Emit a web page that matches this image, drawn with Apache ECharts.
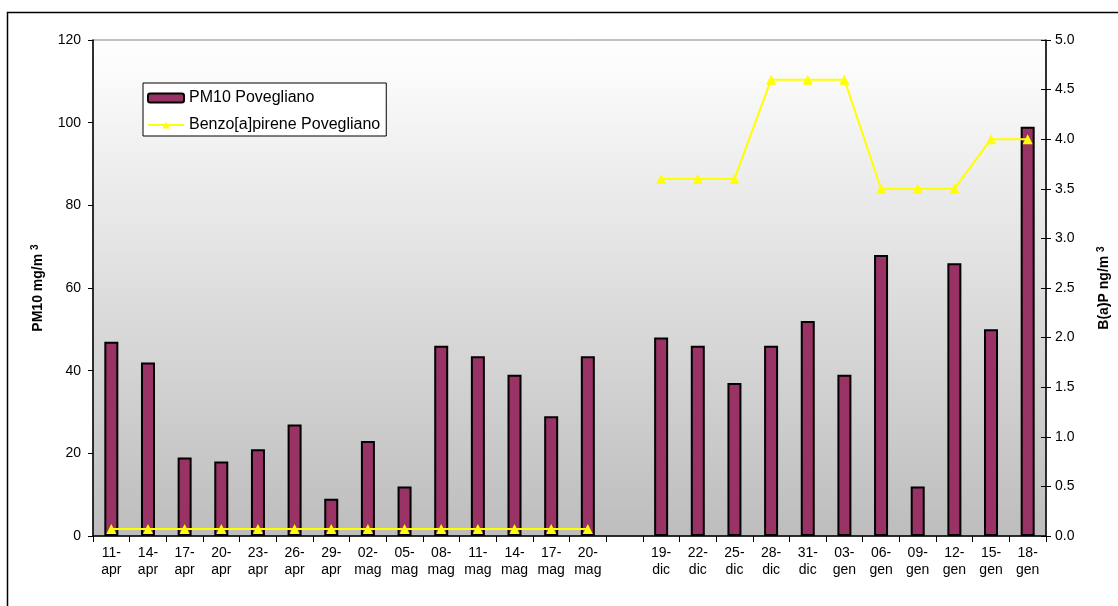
<!DOCTYPE html>
<html>
<head>
<meta charset="utf-8">
<script src="https://cdn.jsdelivr.net/npm/echarts@6/dist/echarts.min.js"></script>
<style>
  html, body { margin: 0; padding: 0; background: #ffffff; }
  #chart { width: 1118px; height: 606px; }
</style>
</head>
<body>
<div id="chart"></div>
<script>
// categorie (la voce vuota separa le due campagne)
var categories = [
  '11-\napr', '14-\napr', '17-\napr', '20-\napr', '23-\napr', '26-\napr', '29-\napr',
  '02-\nmag', '05-\nmag', '08-\nmag', '11-\nmag', '14-\nmag', '17-\nmag', '20-\nmag',
  '',
  '19-\ndic', '22-\ndic', '25-\ndic', '28-\ndic', '31-\ndic',
  '03-\ngen', '06-\ngen', '09-\ngen', '12-\ngen', '15-\ngen', '18-\ngen'
]
var pm10 = [47, 42, 19, 18, 21, 27, 9, 23, 12, 46, 43.5, 39, 29, 43.5,
  null,
  48, 46, 37, 46, 52, 39, 68, 12, 66, 50, 99]
var bap = [0.07, 0.07, 0.07, 0.07, 0.07, 0.07, 0.07, 0.07, 0.07, 0.07, 0.07, 0.07, 0.07, 0.07,
  null,
  3.6, 3.6, 3.6, 4.6, 4.6, 4.6, 3.5, 3.5, 3.5, 4.0, 4.0]

var font = 'Liberation Sans, Arial, sans-serif'
var chart = echarts.init(document.getElementById('chart'))

var nameStyle = {
  fontWeight: 'bold',
  fontSize: 14,
  color: '#000',
  fontFamily: font,
  rich: {
    sup: { fontSize: 10, fontWeight: 'bold', verticalAlign: 'top', padding: [0, 0, 6, 0] }
  }
}

var option = {
  animation: false,
  textStyle: { fontFamily: font },
  graphic: [{
    type: 'rect',
    silent: true,
    shape: { x: 7.5, y: 12.5, width: 1300, height: 800 },
    style: { fill: 'none', stroke: '#000', lineWidth: 1.5 }
  }],
  grid: {
    left: 93,
    right: 72,
    top: 40,
    bottom: 70,
    outerBoundsMode: 'none',
    containLabel: false,
    show: true,
    borderColor: '#808080',
    borderWidth: 1,
    backgroundColor: new echarts.graphic.LinearGradient(0, 0, 0, 1, [
      { offset: 0, color: '#ffffff' },
      { offset: 1, color: '#bdbdbd' }
    ])
  },
  legend: {
    orient: 'vertical',
    left: 143,
    top: 83,
    backgroundColor: '#ffffff',
    borderColor: '#000',
    borderWidth: 1,
    borderRadius: 0,
    padding: [7, 6, 3, 4],
    itemGap: 11,
    itemWidth: 36,
    itemHeight: 9,
    textStyle: { fontSize: 16, color: '#000', fontFamily: font },
    data: ['PM10 Povegliano', 'Benzo[a]pirene Povegliano']
  },
  xAxis: {
    type: 'category',
    data: categories,
    axisLine: { lineStyle: { color: '#000', width: 1.5 } },
    axisTick: { show: true, length: 6, interval: 0, lineStyle: { color: '#000' } },
    axisLabel: {
      interval: 0,
      color: '#000',
      fontSize: 14,
      lineHeight: 17,
      margin: 9,
      fontFamily: font
    },
    splitLine: { show: false }
  },
  yAxis: [{
    type: 'value',
    min: 0,
    max: 120,
    interval: 20,
    name: 'PM10 mg/m {sup|3}',
    nameLocation: 'middle',
    nameRotate: 90,
    nameGap: 47,
    nameTextStyle: nameStyle,
    axisLine: { show: true, lineStyle: { color: '#000', width: 1.5 } },
    axisTick: { show: true, length: 5, lineStyle: { color: '#000' } },
    axisLabel: { color: '#000', fontSize: 14, margin: 12, fontFamily: font },
    splitLine: { show: false }
  }, {
    type: 'value',
    position: 'right',
    min: 0,
    max: 5,
    interval: 0.5,
    name: 'B(a)P ng/m {sup|3}',
    nameLocation: 'middle',
    nameRotate: 90,
    nameGap: 50,
    nameTextStyle: nameStyle,
    axisLine: { show: true, lineStyle: { color: '#000', width: 1.5 } },
    axisTick: { show: true, length: 5, lineStyle: { color: '#000' } },
    axisLabel: {
      color: '#000',
      fontSize: 14,
      margin: 9,
      fontFamily: font,
      formatter: function (v) { return v.toFixed(1) }
    },
    splitLine: { show: false }
  }, {
    // solo per le tacche interne dell'asse destro (tacche a croce)
    type: 'value',
    position: 'right',
    min: 0,
    max: 5,
    interval: 0.5,
    axisLine: { show: false },
    axisTick: { show: true, inside: true, length: 5, lineStyle: { color: '#000' } },
    axisLabel: { show: false },
    splitLine: { show: false }
  }],
  series: [{
    name: 'PM10 Povegliano',
    type: 'bar',
    yAxisIndex: 0,
    data: pm10,
    barWidth: 14,
    itemStyle: {
      color: '#993366',
      borderColor: '#000',
      borderWidth: 2
    }
  }, {
    name: 'Benzo[a]pirene Povegliano',
    type: 'line',
    yAxisIndex: 1,
    data: bap,
    symbol: 'triangle',
    symbolSize: 10,
    connectNulls: false,
    z: 5,
    lineStyle: { color: '#ffff00', width: 2 },
    itemStyle: { color: '#ffff00', borderWidth: 0 }
  }]
}

chart.setOption(option)
</script>
</body>
</html>
